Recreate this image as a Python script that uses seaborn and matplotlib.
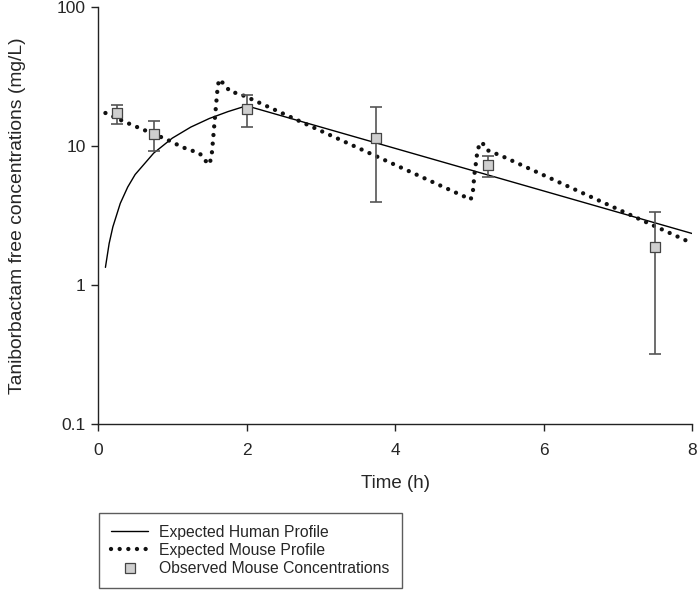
import numpy as np
import pandas as pd
import matplotlib
matplotlib.use("Agg")
import matplotlib.pyplot as plt
import seaborn as sns
from matplotlib.lines import Line2D

# Expected human profile
human_t = [0.1, 0.15, 0.2, 0.3, 0.4, 0.5, 0.75, 1.0, 1.25, 1.5, 1.75, 2.0, 8.0]
human_c = [1.34, 1.99, 2.62, 3.87, 5.07, 6.24, 8.9, 11.4, 13.7, 15.8, 17.7, 19.5, 2.35]

# Expected mouse profile
mouse_t = [0.1, 0.34, 0.57, 0.92, 1.14, 1.37, 1.44, 1.50, 1.53, 1.55, 1.57, 1.59,
           1.61, 1.63, 1.70, 1.78, 1.89, 2.0, 5.02, 5.05, 5.07, 5.10, 5.11, 5.17,
           5.24, 5.35, 5.46, 8.0]
mouse_c = [17.3, 15.1, 13.4, 11.2, 9.8, 8.86, 7.9, 7.38, 8.47, 11.2, 15.0, 19.7,
           26.0, 30.2, 27.9, 24.6, 23.9, 22.6, 4.13, 4.77, 6.3, 8.3, 9.5, 10.7,
           9.36, 8.86, 8.38, 2.0]

# Observed mouse concentrations with error bars
obs_t = [0.25, 0.75, 2.0, 3.75, 5.25, 7.5]
obs_c = [17.2, 12.2, 18.5, 11.5, 7.26, 1.87]
obs_hi = [19.9, 15.1, 23.4, 19.0, 8.5, 3.37]
obs_lo = [14.3, 9.25, 13.7, 3.97, 6.0, 0.32]

sns.set_style("ticks")
plt.rcParams["font.family"] = ["Liberation Sans", "DejaVu Sans"]

fig = plt.figure(figsize=(7, 5.93), dpi=100)
ax = fig.add_axes([0.14, 0.285, 0.8486, 0.703])

human = pd.DataFrame({"t": human_t, "c": human_c})
mouse = pd.DataFrame({"t": mouse_t, "c": mouse_c})
obs = pd.DataFrame({"t": obs_t, "c": obs_c})

sns.lineplot(data=human, x="t", y="c", ax=ax, color="black", linewidth=1.0,
             estimator=None, sort=False)
sns.lineplot(data=mouse, x="t", y="c", ax=ax, color="#111111", linewidth=3.1,
             linestyle=(0, (0.01, 2.0)), dash_capstyle="round",
             estimator=None, sort=False)

yerr = [np.array(obs_c) - np.array(obs_lo), np.array(obs_hi) - np.array(obs_c)]
ax.errorbar(obs_t, obs_c, yerr=yerr, fmt="none", ecolor="#555555",
            elinewidth=1.2, capsize=4.5, capthick=1.2, zorder=3)
sns.scatterplot(data=obs, x="t", y="c", ax=ax, marker="s", s=42,
                color="#cfcfcf", edgecolor="#444444", linewidth=0.9, zorder=4)

ax.set_yscale("log")
ax.set_ylim(0.1, 100)
ax.set_xlim(0, 8)
ax.set_xticks([0, 2, 4, 6, 8])
ax.set_yticks([0.1, 1, 10, 100])
ax.set_yticklabels(["0.1", "1", "10", "100"])
ax.minorticks_off()
ax.tick_params(axis="both", labelsize=12.5, length=5, width=1, color="#222222")
ax.tick_params(axis="x", pad=9)
ax.tick_params(axis="y", pad=4)
for s in ["left", "bottom"]:
    ax.spines[s].set_color("#222222")
    ax.spines[s].set_linewidth(1)
sns.despine(ax=ax)

ax.set_xlabel("Time (h)", fontsize=13.5, labelpad=12)
ax.set_ylabel("Taniborbactam free concentrations (mg/L)", fontsize=13.9, labelpad=22)

handles = [
    Line2D([], [], color="black", linewidth=1.0),
    Line2D([], [], color="#111111", linewidth=3.1, linestyle=(0, (0.01, 2.0)),
           dash_capstyle="round"),
    Line2D([], [], linestyle="none", marker="s", markersize=7,
           markerfacecolor="#cfcfcf", markeredgecolor="#444444", markeredgewidth=0.9),
]
labels = ["Expected Human Profile", "Expected Mouse Profile",
          "Observed Mouse Concentrations"]
leg = fig.legend(handles, labels, loc="upper left",
                 bbox_to_anchor=(99 / 700, 1 - 513 / 593),
                 fontsize=11.3, frameon=True, fancybox=False, shadow=False,
                 handlelength=2.4, handletextpad=0.7, labelspacing=0.2,
                 borderpad=0.75, borderaxespad=0)
leg.get_frame().set_edgecolor("#333333")
leg.get_frame().set_linewidth(1.0)

fig.savefig("out.png", dpi=100)
